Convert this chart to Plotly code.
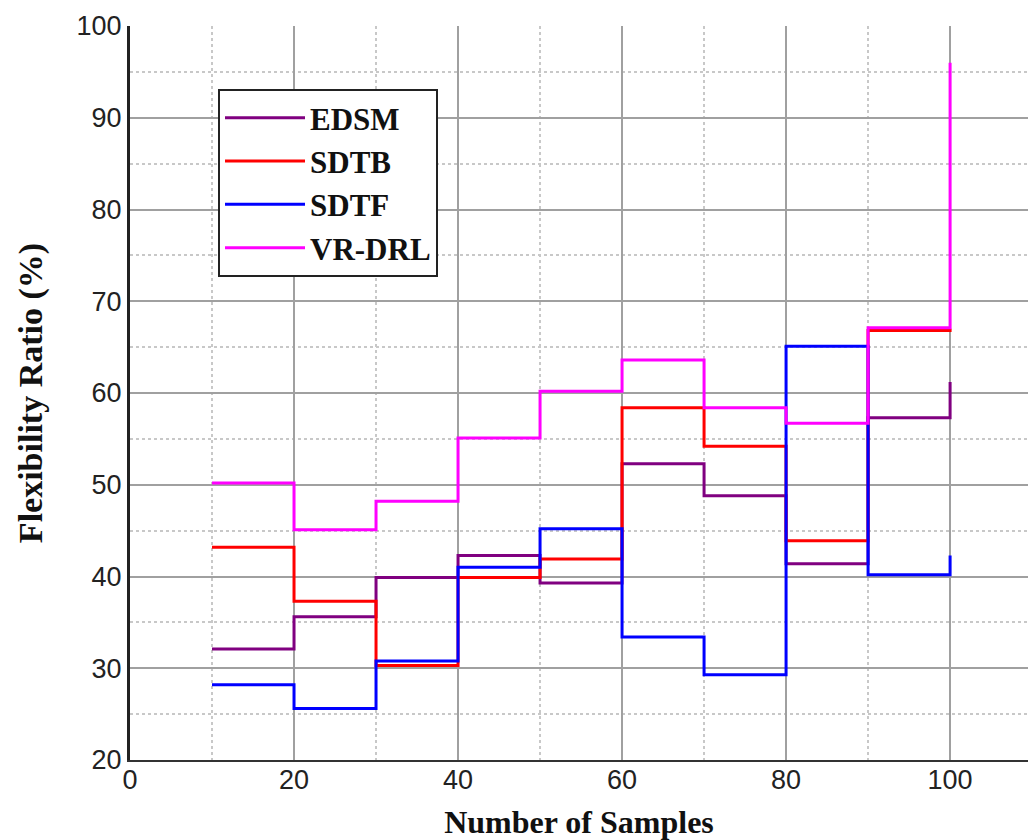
import plotly.graph_objects as go

samples = [10, 20, 30, 40, 50, 60, 70, 80, 90, 100]
edsm   = [32.1, 35.6, 39.9, 42.3, 39.3, 52.3, 48.8, 41.4, 57.3, 61.2]
sdtb   = [43.2, 37.3, 30.3, 39.9, 41.9, 58.4, 54.2, 43.9, 66.8, 67.0]
sdtf   = [28.2, 25.6, 30.8, 41.0, 45.2, 33.4, 29.3, 65.1, 40.2, 42.3]
vrdrl  = [50.2, 45.1, 48.2, 55.1, 60.2, 63.6, 58.4, 56.7, 67.1, 96.0]

series = [
    ("EDSM", edsm, "#800080"),
    ("SDTB", sdtb, "#FF0000"),
    ("SDTF", sdtf, "#0000FF"),
    ("VR-DRL", vrdrl, "#FF00FF"),
]

x_ticks = [0, 20, 40, 60, 80, 100]
y_ticks = [20, 30, 40, 50, 60, 70, 80, 90, 100]

fig = go.Figure()
for name, vals, color in series:
    fig.add_trace(go.Scatter(
        x=samples, y=vals, name=name, mode="lines",
        line=dict(color=color, width=3, shape="hv"),
    ))

tickfont = dict(family="Liberation Sans, Arial, sans-serif", size=27, color="#222222")
serif = "Liberation Serif, Times New Roman, serif"

fig.update_layout(
    width=1028, height=840,
    margin=dict(l=130, r=0, t=26, b=78),
    paper_bgcolor="white", plot_bgcolor="white",
    showlegend=True,
    legend=dict(
        x=0.098, y=0.914, xanchor="left", yanchor="top",
        bgcolor="white", bordercolor="#222222", borderwidth=2,
        font=dict(family=serif, size=31, color="#111111", weight="bold"),
        itemwidth=80,
        tracegroupgap=0,
    ),
    xaxis=dict(
        range=[0, 109.5], tickvals=x_ticks, ticks="",
        showgrid=True, gridcolor="#a0a0a0", gridwidth=2,
        minor=dict(dtick=10, tick0=0, showgrid=True, gridcolor="#c8c8c8", gridwidth=1.5,
                   griddash="dot", ticks=""),
        showline=True, linecolor="#333333", linewidth=2,
        zeroline=False, tickfont=tickfont, ticklabelstandoff=-5,
        title=dict(text="Number of Samples",
                   font=dict(family=serif, size=32, color="#111111", weight="bold"),
                   standoff=22),
    ),
    yaxis=dict(
        range=[20, 100], tickvals=y_ticks, ticks="",
        showgrid=True, gridcolor="#a0a0a0", gridwidth=2,
        minor=dict(dtick=5, tick0=20, showgrid=True, gridcolor="#c8c8c8", gridwidth=1.5,
                   griddash="dot", ticks=""),
        showline=True, linecolor="#222222", linewidth=3,
        zeroline=False, tickfont=tickfont,
        title=dict(text="Flexibility Ratio (%)",
                   font=dict(family=serif, size=34, color="#111111", weight="bold"),
                   standoff=24),
    ),
)

fig.write_html("out.html")
